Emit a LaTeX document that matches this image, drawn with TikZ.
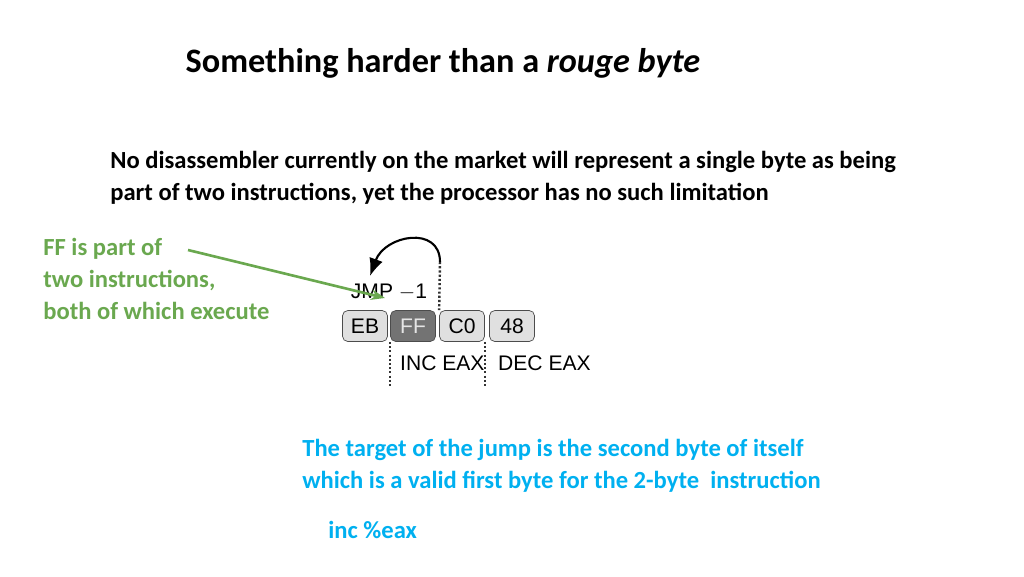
\documentclass[tikz,border=0pt]{standalone}
\usepackage{fontspec}
\setmainfont{Carlito}
\newfontfamily\boxfont{Liberation Sans}
\usetikzlibrary{arrows.meta}
\definecolor{slidegreen}{RGB}{106,168,79}
\definecolor{slideblue}{RGB}{0,176,240}
\tikzset{
  bytebox/.style={draw=black!70, rounded corners=3pt, fill=black!12, minimum width=0.9cm, minimum height=0.62cm, font=\boxfont\large, inner sep=0pt},
  slidetext/.style={align=left, anchor=west, inner sep=0pt, font=\bfseries\fontsize{14}{18}\selectfont},
  markline/.style={dash pattern=on 1.2pt off 1.2pt, line width=1.4pt, black!80}
}
\begin{document}
\begin{tikzpicture}[x=0.02cm, y=-0.02cm]
\useasboundingbox (0,0) rectangle (1024,576);

% texts
\node [anchor=center, font=\bfseries\fontsize{19.5}{24}\selectfont] (title) at (443,63) {Something harder than a \textit{rouge byte}};
\node [slidetext] (intro) at (110,178) {No disassembler currently on the market will represent a single byte as being\\part of two instructions, yet the processor has no such limitation};
\node [slidetext, text=slidegreen] (note) at (43,279) {FF is part of\\two instructions,\\both of which execute};
\node [slidetext, text=slideblue] (target) at (302,466) {The target of the jump is the second byte of itself\\which is a valid first byte for the 2-byte\ \ instruction};
\node [slidetext, text=slideblue] (inc) at (328,530) {inc \%eax};

% bytes
\node [bytebox] (eb) at (365,326) {EB};
\node [bytebox, fill=black!55, text=black!10] (ff) at (413,326) {FF};
\node [bytebox] (c0) at (462,326) {C0};
\node [bytebox] (b48) at (512,326) {48};

% labels
\node [font=\boxfont\large] (jmp) at (389,292) {JMP $-$1};
\node [font=\boxfont\large, anchor=west] (incl) at (394,363) {INC EAX};
\node [font=\boxfont\large, anchor=west] (decl) at (492,363) {DEC EAX};

% marks
\coordinate (top) at (440,262);
\draw [markline] (top) -- (c0.north west);
\draw [markline] (ff.south west) -- ++(0,44);
\draw [markline] (c0.south east) -- ++(0,44);
\draw [line width=1.2pt, -{Latex[length=10pt, width=8pt]}] (top) .. controls (440,225) and (385,235) .. (370,276);

% edges
\draw [slidegreen, line width=1.5pt, -{Stealth[length=8pt]}] (188,250) -- (385,298);
\end{tikzpicture}
\end{document}
